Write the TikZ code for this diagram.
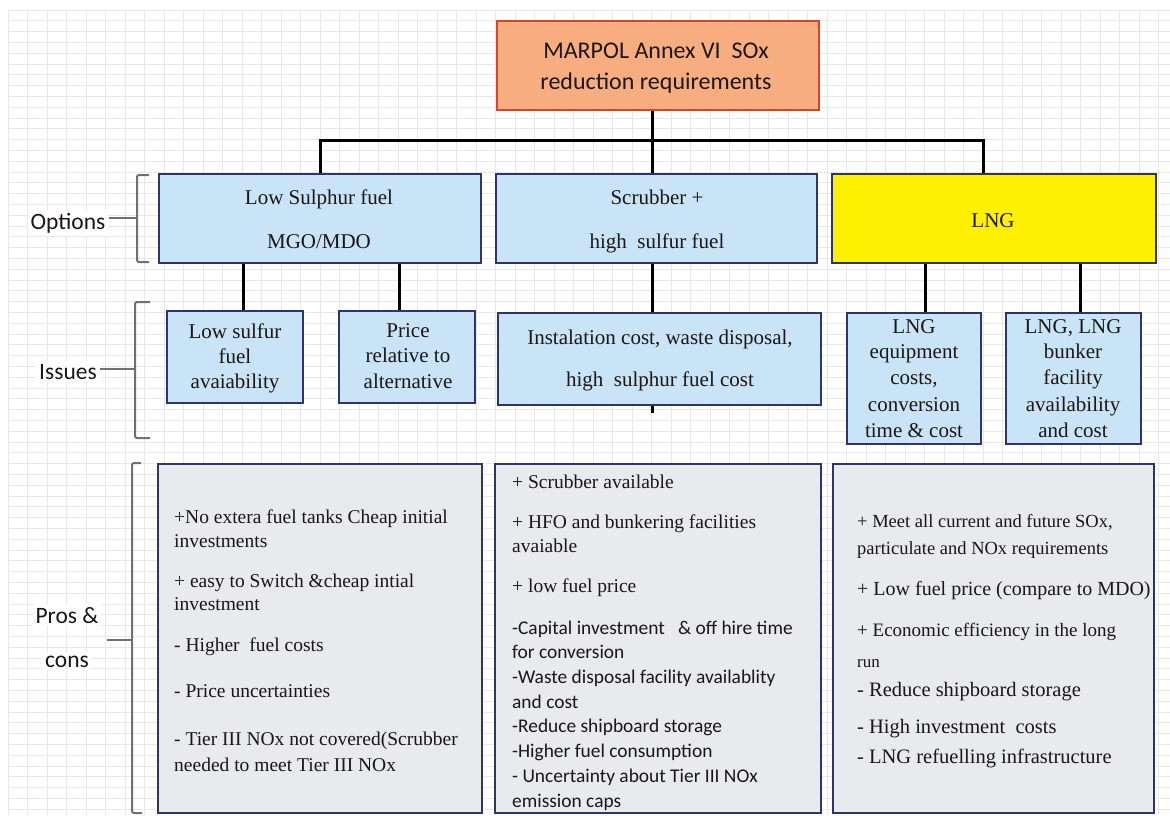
\documentclass[tikz,border=0pt]{standalone}
\usepackage{fontspec}
\setmainfont{Liberation Serif}
\newfontfamily\calibri{Carlito}
\usetikzlibrary{backgrounds}

\definecolor{topfill}{HTML}{F8AD80}
\definecolor{topline}{HTML}{D6442C}
\definecolor{bluefill}{HTML}{C8E4F6}
\definecolor{navy}{HTML}{2E346E}
\definecolor{lngfill}{HTML}{FFF000}
\definecolor{grayfill}{HTML}{E8EAEE}
\definecolor{ink}{HTML}{1C1616}
\definecolor{bracecol}{HTML}{707070}
\definecolor{gridcol}{HTML}{E8E8E8}

\tikzset{
  box/.style={rectangle, draw=navy, line width=2pt, inner sep=0pt},
  topbox/.style={rectangle, draw=topline, fill=topfill, line width=2pt, inner sep=0pt},
  bluebox/.style={box, fill=bluefill},
  lngbox/.style={box, fill=lngfill},
  probox/.style={box, fill=grayfill},
  conn/.style={draw=black, line width=3pt},
  bracket/.style={draw=bracecol, line width=2pt, rounded corners=2pt},
  gridline/.style={draw=gridcol, line width=0.9pt},
  ctr/.style={anchor=base, inner sep=0pt, text=ink},
  lft/.style={anchor=base west, inner sep=0pt, text=ink},
  head/.style={font=\calibri\fontsize{24}{29}\selectfont},
  big/.style={font=\fontsize{21}{25}\selectfont},
  body/.style={font=\fontsize{19.5}{23}\selectfont},
  sans/.style={font=\calibri\fontsize{19.4}{23}\selectfont},
  lbl/.style={anchor=base, inner sep=3pt, fill=white, text=ink,
              font=\calibri\fontsize{23.5}{28}\selectfont},
}

\begin{document}
\begin{tikzpicture}[x=1pt,y=-1pt]
\useasboundingbox (0,0) rectangle (1170,815);

% ---------- boxes ----------
\node[topbox, minimum width=322pt, minimum height=89pt] (top) at (658,65.5) {};

\node[bluebox, minimum width=322pt, minimum height=89pt] (opt1) at (320,218.5) {};
\node[bluebox, minimum width=321pt, minimum height=89pt] (opt2) at (656.5,218.5) {};
\node[lngbox,  minimum width=324pt, minimum height=89pt] (opt3) at (994,218.5) {};

\node[bluebox, minimum width=136pt, minimum height=92pt] (iss1) at (235,357) {};
\node[bluebox, minimum width=136pt, minimum height=92pt] (iss2) at (407,357) {};
\node[bluebox, minimum width=323pt, minimum height=92pt] (iss3) at (659.5,359) {};
\node[bluebox, minimum width=134pt, minimum height=131pt] (iss4) at (914,378.5) {};
\node[bluebox, minimum width=135pt, minimum height=131pt] (iss5) at (1073.5,378.5) {};

\node[probox, minimum width=324pt, minimum height=349pt] (pc1) at (320,638.5) {};
\node[probox, minimum width=326pt, minimum height=349pt] (pc2) at (658,638.5) {};
\node[probox, minimum width=321pt, minimum height=349pt] (pc3) at (993.5,638.5) {};

% ---------- box texts ----------
\node[ctr, head] (topa) at (656,58) {MARPOL Annex VI~~SOx};
\node[ctr, head] (topb) at (656,89) {reduction requirements};

\node[ctr, big] (o1a) at (319,204) {Low Sulphur fuel};
\node[ctr, big] (o1b) at (319,248) {MGO/MDO};
\node[ctr, big] (o2a) at (657,204) {Scrubber +};
\node[ctr, big] (o2b) at (657,248) {high~~sulfur fuel};
\node[ctr, big] (o3a) at (993,227) {LNG};

\node[ctr, big] (i1a) at (235,338) {Low sulfur};
\node[ctr, big] (i1b) at (235,363) {fuel};
\node[ctr, big] (i1c) at (235,388) {avaiability};
\node[ctr, big] (i2a) at (408,337) {Price};
\node[ctr, big] (i2b) at (408,362) {relative to};
\node[ctr, big] (i2c) at (408,388) {alternative};
\node[ctr, big] (i3a) at (660,344) {Instalation cost, waste disposal,};
\node[ctr, big] (i3b) at (660,386) {high~~sulphur fuel cost};
\node[ctr, big] (i4a) at (914,333) {LNG};
\node[ctr, big] (i4b) at (914,358) {equipment};
\node[ctr, big] (i4c) at (914,384) {costs,};
\node[ctr, big] (i4d) at (914,411) {conversion};
\node[ctr, big] (i4e) at (914,437) {time \& cost};
\node[ctr, big] (i5a) at (1073,333) {LNG, LNG};
\node[ctr, big] (i5b) at (1073,358) {bunker};
\node[ctr, big] (i5c) at (1073,384) {facility};
\node[ctr, big] (i5d) at (1073,411) {availability};
\node[ctr, big] (i5e) at (1073,437) {and cost};

% low sulphur fuel: pros and cons
\node[lft, body] (p1a) at (174,523) {+No extera fuel tanks Cheap initial};
\node[lft, body] (p1b) at (174,547) {investments};
\node[lft, body] (p1c) at (174,587) {+ easy to Switch \&cheap intial};
\node[lft, body] (p1d) at (174,610) {investment};
\node[lft, body] (p1e) at (174,651) {- Higher~~fuel costs};
\node[lft, body] (p1f) at (174,697) {- Price uncertainties};
\node[lft, body] (p1g) at (174,745) {- Tier III NOx not covered(Scrubber};
\node[lft, body] (p1h) at (174,771) {needed to meet Tier III NOx};

% scrubber: pros and cons
\node[lft, body] (p2a) at (512,488) {+ Scrubber available};
\node[lft, body] (p2b) at (512,528) {+ HFO and bunkering facilities};
\node[lft, body] (p2c) at (512,552) {avaiable};
\node[lft, body] (p2d) at (512,592) {+ low fuel price};
\node[lft, sans] (p2e) at (512,634) {-Capital investment~~ \& off hire time};
\node[lft, sans] (p2f) at (512,658) {for conversion};
\node[lft, sans] (p2g) at (512,683) {-Waste disposal facility availablity};
\node[lft, sans] (p2h) at (512,708) {and cost};
\node[lft, sans] (p2i) at (512,732) {-Reduce shipboard storage};
\node[lft, sans] (p2j) at (512,757) {-Higher fuel consumption};
\node[lft, sans] (p2k) at (512,782) {- Uncertainty about Tier III NOx};
\node[lft, sans] (p2l) at (512,807) {emission caps};

% LNG: pros and cons
\node[lft, font=\fontsize{18.5}{22}\selectfont] (p3a) at (857,527) {+ Meet all current and future SOx,};
\node[lft, font=\fontsize{18.5}{22}\selectfont] (p3b) at (857,554) {particulate and NOx requirements};
\node[lft, font=\fontsize{20}{24}\selectfont] (p3c) at (857,595) {+ Low fuel price (compare to MDO)};
\node[lft, font=\fontsize{19}{23}\selectfont] (p3d) at (857,636) {+ Economic efficiency in the long};
\node[lft, font=\fontsize{17}{21}\selectfont] (p3e) at (857,667) {run};
\node[lft, font=\fontsize{20.5}{24}\selectfont] (p3f) at (857,696) {- Reduce shipboard storage};
\node[lft, font=\fontsize{20.5}{24}\selectfont] (p3g) at (857,733) {- High investment~~costs};
\node[lft, font=\fontsize{20.5}{24}\selectfont] (p3h) at (857,763) {- LNG refuelling infrastructure};

% ---------- row labels ----------
\node[lbl] (lopt) at (68,229) {Options};
\node[lbl] (liss) at (68,379) {Issues};
\node[lbl] (lpro) at (67,623) {Pros \&};
\node[lbl] (lcon) at (67,667) {cons};

% ---------- paper grid, connectors and brackets ----------
\begin{pgfonlayer}{background}
  \fill[white] (0,0) rectangle (1170,815);
  \foreach \i in {0,...,59}
    \draw[gridline] ({8+19.5*\i},10) -- ({8+19.5*\i},815);
  \foreach \j in {0,...,74}
    \draw[gridline] (8,{10+10.8*\j}) -- (1170,{10+10.8*\j});

  \coordinate (hub)  at (652,140);
  \coordinate (east) at (983,140);
  \coordinate (d1) at (243,0);
  \coordinate (d2) at (399,0);
  \coordinate (d4) at (925,0);
  \coordinate (d5) at (1080,0);

  \draw[conn] (top.south -| hub) -- (hub |- opt2.north);
  \draw[conn] (opt1.north) |- (east) -- (east |- opt3.north);

  \draw[conn] (d1 |- opt1.south) -- (d1 |- iss1.north);
  \draw[conn] (d2 |- opt1.south) -- (d2 |- iss2.north);
  \draw[conn] (hub |- opt2.south) -- (hub |- iss3.south) -- ++(0,7);
  \draw[conn] (d4 |- opt3.south) -- (d4 |- iss4.north);
  \draw[conn] (d5 |- opt3.south) -- (d5 |- iss5.north);
\end{pgfonlayer}

\coordinate (b1) at (137,218);
\coordinate (b2) at (135,369);
\coordinate (b3) at (132,640);
\draw[bracket] (149,175) -- (137,175) -- (137,262) -- (149,262);
\draw[bracket] (150,302) -- (135,302) -- (135,438) -- (150,438);
\draw[bracket] (141,463) -- (132,463) -- (132,813) -- (142,813);
\draw[bracecol, line width=2pt] (lopt.east |- b1) -- (b1);
\draw[bracecol, line width=2pt] (liss.east |- b2) -- (b2);
\draw[bracecol, line width=2pt] (107,640) -- (b3);
\end{tikzpicture}
\end{document}
